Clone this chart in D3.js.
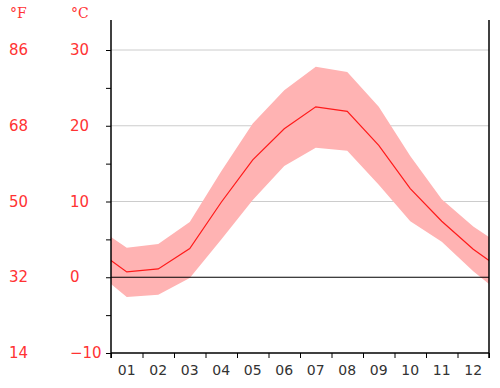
<!DOCTYPE html>
<html>
<head>
<meta charset="utf-8">
<script src="https://cdn.jsdelivr.net/npm/d3@7"></script>
<style>
  html, body { margin: 0; padding: 0; background: #fff; }
  svg { display: block; }
</style>
</head>
<body>
<svg id="chart" width="500" height="388"></svg>
<script>
const months = ["01","02","03","04","05","06","07","08","09","10","11","12"];
const tempMean = [0.7, 1.1, 3.8, 9.9, 15.5, 19.6, 22.5, 21.9, 17.4, 11.7, 7.4, 3.7];
const tempHigh = [3.9, 4.4, 7.3, 14.0, 20.3, 24.7, 27.8, 27.1, 22.5, 16.0, 10.3, 6.7];
const tempLow  = [-2.6, -2.3, -0.1, 5.0, 10.2, 14.7, 17.1, 16.7, 12.2, 7.4, 4.7, 0.8];
const celsiusTicks = [30, 20, 10, 0, -10];
const fahrenheitLabels = ["86", "68", "50", "32", "14"];

(function () {
const svg = d3.select("#chart");
const pLeft = 111, pRight = 489, pTop = 20, pBottom = 353;
const red = "#ff3333";

const x = d3.scaleLinear().domain([0, 12]).range([pLeft, pRight]);
const y = d3.scaleLinear().domain([-10, 30]).range([353, 50]);

// Wrap-around data: December before January and January after December, clipped to plot
const idx = d3.range(-1, 13);
const pick = (arr, i) => arr[(i + 12) % 12];

svg.append("defs").append("clipPath").attr("id", "plotclip")
  .append("rect").attr("x", pLeft).attr("y", pTop).attr("width", pRight - pLeft).attr("height", pBottom - pTop);

// gridlines
svg.append("g").selectAll("line").data([30, 20, 10]).join("line")
  .attr("x1", pLeft).attr("x2", pRight)
  .attr("y1", d => y(d)).attr("y2", d => y(d))
  .attr("stroke", "#cccccc").attr("stroke-width", 1);

const plot = svg.append("g").attr("clip-path", "url(#plotclip)");

const area = d3.area()
  .x(i => x(i + 0.5))
  .y0(i => y(pick(tempLow, i)))
  .y1(i => y(pick(tempHigh, i)));
plot.append("path").datum(idx).attr("d", area).attr("fill", "#ffb3b3");

// zero line
svg.append("line").attr("x1", pLeft).attr("x2", pRight)
  .attr("y1", y(0)).attr("y2", y(0)).attr("stroke", "#000").attr("stroke-width", 1);

const line = d3.line().x(i => x(i + 0.5)).y(i => y(pick(tempMean, i)));
plot.append("path").datum(idx).attr("d", line)
  .attr("fill", "none").attr("stroke", "#ff1a1a").attr("stroke-width", 1.2);

// left axis with ticks every 5
const yAxis = d3.axisLeft(y).tickValues(d3.range(-10, 31, 5)).tickSize(5).tickFormat("");
const gy = svg.append("g").attr("transform", `translate(${pLeft},0)`).call(yAxis);
gy.select(".domain").remove();
gy.selectAll(".tick line").attr("stroke", "#000");
svg.append("line").attr("x1", pLeft).attr("x2", pLeft).attr("y1", pTop).attr("y2", pBottom + 5)
  .attr("stroke", "#000").attr("stroke-width", 1.5);
svg.append("line").attr("x1", pRight).attr("x2", pRight).attr("y1", pTop).attr("y2", pBottom + 5)
  .attr("stroke", "#000").attr("stroke-width", 1.5);

// bottom axis
const xAxis = d3.axisBottom(x).tickValues(d3.range(0, 13)).tickSize(5).tickFormat("");
const gx = svg.append("g").attr("transform", `translate(0,${pBottom})`).call(xAxis);
gx.select(".domain").remove();
gx.selectAll(".tick line").attr("stroke", "#000");
svg.append("line").attr("x1", pLeft).attr("x2", pRight).attr("y1", pBottom).attr("y2", pBottom)
  .attr("stroke", "#000").attr("stroke-width", 1.5);

svg.append("g").selectAll("text").data(months).join("text")
  .attr("x", (d, i) => x(i + 0.5)).attr("y", 370)
  .attr("text-anchor", "middle").attr("dominant-baseline", "central")
  .attr("font-family", "DejaVu Sans").attr("font-size", 14).attr("fill", "#333")
  .text(d => d);

// Celsius labels
svg.append("g").selectAll("text").data(celsiusTicks).join("text")
  .attr("x", 70).attr("y", d => y(d))
  .attr("dominant-baseline", "central")
  .attr("font-family", "DejaVu Sans").attr("font-size", 15).attr("fill", red)
  .text(d => d < 0 ? "\u2212" + Math.abs(d) : d);

// Fahrenheit labels
svg.append("g").selectAll("text").data(fahrenheitLabels).join("text")
  .attr("x", 9).attr("y", (d, i) => y(celsiusTicks[i]))
  .attr("dominant-baseline", "central")
  .attr("font-family", "DejaVu Sans").attr("font-size", 15).attr("fill", red)
  .text(d => d);

svg.append("text").attr("x", 10).attr("y", 13).attr("dominant-baseline", "central")
  .attr("font-family", "DejaVu Serif").attr("font-size", 14).attr("fill", red).text("°F");
svg.append("text").attr("x", 71).attr("y", 13).attr("dominant-baseline", "central")
  .attr("font-family", "DejaVu Serif").attr("font-size", 14).attr("fill", red).text("°C");
})();
</script>
</body>
</html>
